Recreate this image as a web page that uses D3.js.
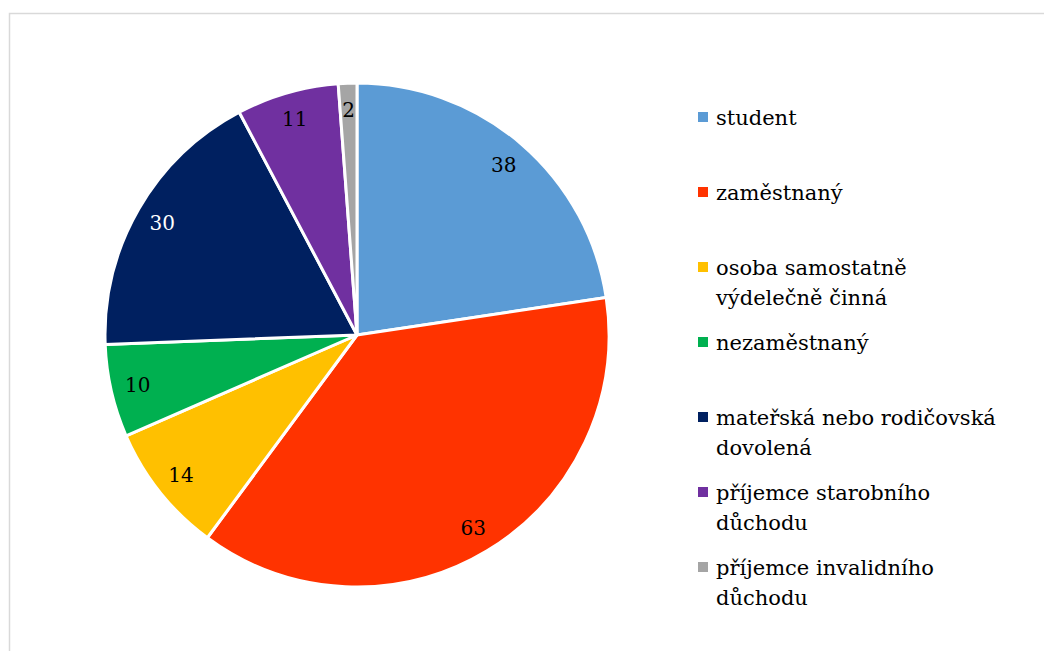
<!DOCTYPE html>
<html>
<head>
<meta charset="utf-8">
<script src="https://cdn.jsdelivr.net/npm/d3@7"></script>
<style>
  html, body { margin: 0; padding: 0; background: #fff; }
  svg { display: block; }
  svg text { font-family: "DejaVu Serif"; }
</style>
</head>
<body>
<svg id="chart" width="1044" height="651"></svg>
<script>
const categories = [
  "student",
  "zaměstnaný",
  "osoba samostatně výdelečně činná",
  "nezaměstnaný",
  "mateřská nebo rodičovská dovolená",
  "příjemce starobního důchodu",
  "příjemce invalidního důchodu"
];
const legendLines = [
  ["student"],
  ["zaměstnaný"],
  ["osoba samostatně", "výdelečně činná"],
  ["nezaměstnaný"],
  ["mateřská nebo rodičovská", "dovolená"],
  ["příjemce starobního", "důchodu"],
  ["příjemce invalidního", "důchodu"]
];
const values = [38, 63, 14, 10, 30, 11, 2];
const colors = ["#5B9BD5", "#FF3300", "#FFC000", "#00B050", "#002060", "#7030A0", "#A5A5A5"];
const labelColors = ["#000", "#000", "#000", "#000", "#fff", "#000", "#000"];

const svg = d3.select("#chart");

// frame
svg.append("path")
  .attr("d", "M9.5,651 L9.5,13.5 L1044,13.5")
  .attr("fill", "none")
  .attr("stroke", "#d9d9d9")
  .attr("stroke-width", 1.5);

const cx = 357, cy = 335, R = 252;
const data = categories.map((c, i) => ({ name: c, value: values[i], i }));
const pie = d3.pie().value(d => d.value).sort(null);
const arcs = pie(data);
const arc = d3.arc().innerRadius(0).outerRadius(R);
const labelArc = d3.arc().innerRadius(225).outerRadius(225);

const g = svg.append("g").attr("transform", `translate(${cx},${cy})`);
g.selectAll("path.slice").data(arcs).enter().append("path")
  .attr("class", "slice")
  .attr("d", arc)
  .attr("fill", d => colors[d.data.i])
  .attr("stroke", "#fff")
  .attr("stroke-width", 3)
  .attr("stroke-linejoin", "round");

g.selectAll("text.lbl").data(arcs).enter().append("text")
  .attr("class", "lbl")
  .attr("transform", d => `translate(${labelArc.centroid(d)})`)
  .attr("text-anchor", "middle")
  .attr("dy", "0.36em")
  .style("font-size", "20px")
  .attr("fill", d => labelColors[d.data.i])
  .text(d => d.data.value);

// legend
const ly = d3.scaleLinear().domain([0, categories.length - 1]).range([125, 575]);
const lg = svg.append("g");
const items = lg.selectAll("g.item").data(data).enter().append("g")
  .attr("class", "item")
  .attr("transform", d => `translate(698,${ly(d.i)})`);
items.append("rect")
  .attr("x", 0).attr("y", -13).attr("width", 10).attr("height", 10)
  .attr("fill", d => colors[d.i]);
items.each(function(d) {
  const t = d3.select(this).append("text")
    .attr("class", "leg")
    .attr("x", 18).attr("y", 0)
    .style("font-size", "21px")
    .attr("fill", "#000");
  legendLines[d.i].forEach((ln, k) => {
    t.append("tspan").attr("x", 18).attr("y", k * 29.5).text(ln);
  });
});
</script>
</body>
</html>
